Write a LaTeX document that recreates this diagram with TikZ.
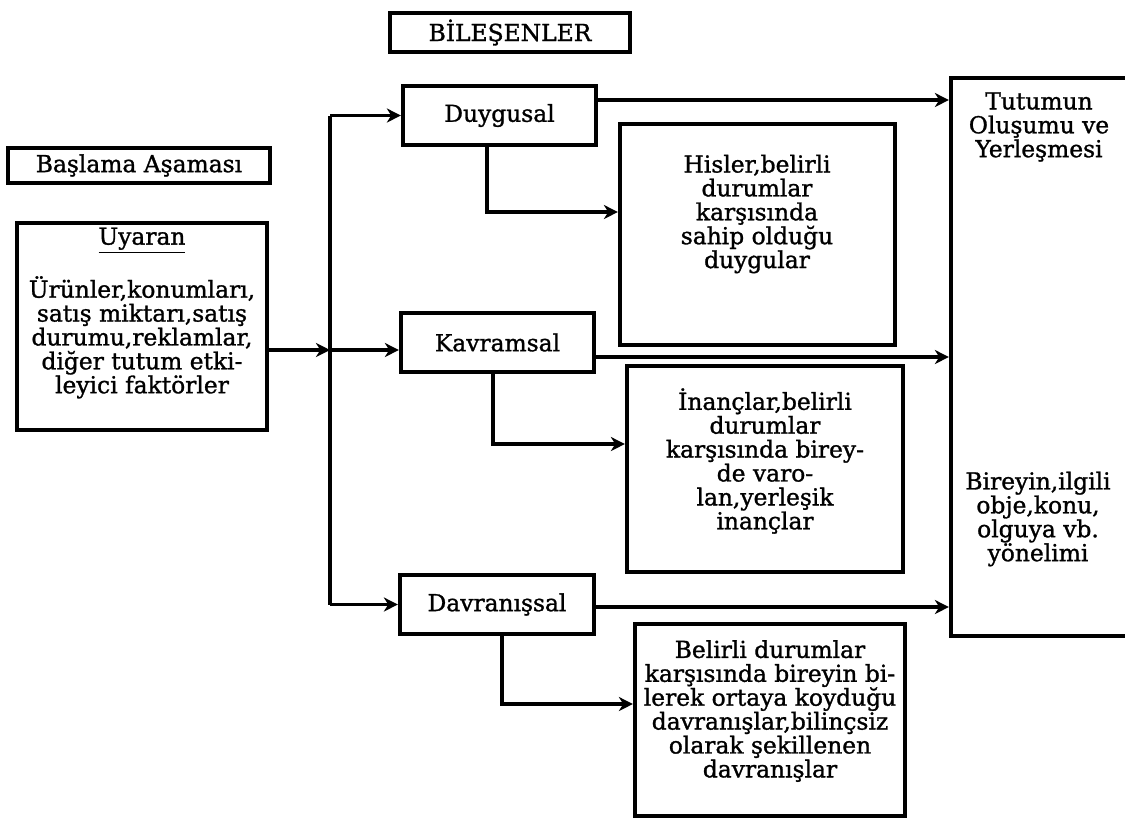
\documentclass[tikz,border=0pt]{standalone}
\usepackage{fontspec}
\setmainfont{DejaVu Serif}[FakeBold=1.2]
\usetikzlibrary{arrows.meta}
\begin{document}
\begin{tikzpicture}[x=0.02cm,y=-0.02cm,>={Stealth[length=8pt,width=8pt,inset=2.5pt]},
  box/.style={draw, line width=2.4pt, rectangle, inner sep=0pt},
  txt/.style={align=center, font=\fontsize{13.3}{13.6}\selectfont},
  conn/.style={line width=2pt}]
\useasboundingbox (0,0) rectangle (1125,819);

\node(bilesen)[box, txt, minimum width=4.8cm, minimum height=0.78cm] at (510,32.5) {BİLEŞENLER};
\node(baslama)[box, txt, minimum width=5.24cm, minimum height=0.7cm] at (139,165.5) {Başlama Aşaması};

\node(uyaran)[box, minimum width=5cm, minimum height=4.14cm] at (142,326.5) {};
\node(uyarantxt)[txt] at (142,313) {\underline{Uyaran}\\[12pt]
  Ürünler,konumları,\\satış miktarı,satış\\durumu,reklamlar,\\diğer tutum etki-\\leyici faktörler};

\node(duygusal)[box, txt, minimum width=3.86cm, minimum height=1.18cm] at (499.5,115.5) {Duygusal};
\node(kavramsal)[box, txt, minimum width=3.86cm, minimum height=1.18cm] at (497.5,342.5) {Kavramsal};
\node(davranissal)[box, txt, minimum width=3.88cm, minimum height=1.18cm] at (497,604.5) {Davranışsal};

\node(hisler)[box, minimum width=5.5cm, minimum height=4.42cm] at (757.5,234.5) {};
\node(hislertxt)[txt] at (757,214) {Hisler,belirli\\durumlar\\karşısında\\sahip olduğu\\duygular};

\node(inanc)[box, minimum width=5.52cm, minimum height=4.12cm] at (765,469) {};
\node(inanctxt)[txt] at (765,461) {İnançlar,belirli\\durumlar\\karşısında birey-\\de varo-\\lan,yerleşik\\inançlar};

\node(belirli)[box, minimum width=5.4cm, minimum height=3.84cm] at (770,720) {};
\node(belirlitxt)[txt] at (770,711) {Belirli durumlar\\karşısında bireyin bi-\\lerek ortaya koyduğu\\davranışlar,bilinçsiz\\olarak şekillenen\\davranışlar};

\node(tutum)[box, minimum width=3.78cm, minimum height=11.16cm] at (1045.5,357) {};
\node(tutumtxt)[txt] at (1039,127) {Tutumun\\Oluşumu ve\\Yerleşmesi};
\node(yonelim)[txt] at (1038,519) {Bireyin,ilgili\\obje,konu,\\olguya vb.\\yönelimi};

\coordinate(jn) at (330,350);
\draw[conn,->] (uyaran.east |- jn) -- (jn);
\draw[conn] (jn |- duygusal.west) -- (jn |- davranissal.west);
\draw[conn,->] (jn |- duygusal.west) -- (duygusal.west);
\draw[conn,->] (jn) -- (jn -| kavramsal.west);
\draw[conn,->] (jn |- davranissal.west) -- (davranissal.west);

\draw[conn,->] ([yshift=0.31cm]duygusal.east) -- ([yshift=0.31cm]duygusal.east -| tutum.west);
\draw[conn,->] ([yshift=-0.29cm]kavramsal.east) -- ([yshift=-0.29cm]kavramsal.east -| tutum.west);
\draw[conn,->] ([yshift=-0.05cm]davranissal.east) -- ([yshift=-0.05cm]davranissal.east -| tutum.west);

\draw[conn,->] ([xshift=-0.25cm]duygusal.south) |- ([yshift=0.45cm]hisler.west);
\draw[conn,->] ([xshift=-0.09cm]kavramsal.south) |- ([yshift=0.5cm]inanc.west);
\draw[conn,->] ([xshift=0.1cm]davranissal.south) |- ([yshift=0.32cm]belirli.west);
\end{tikzpicture}
\end{document}
